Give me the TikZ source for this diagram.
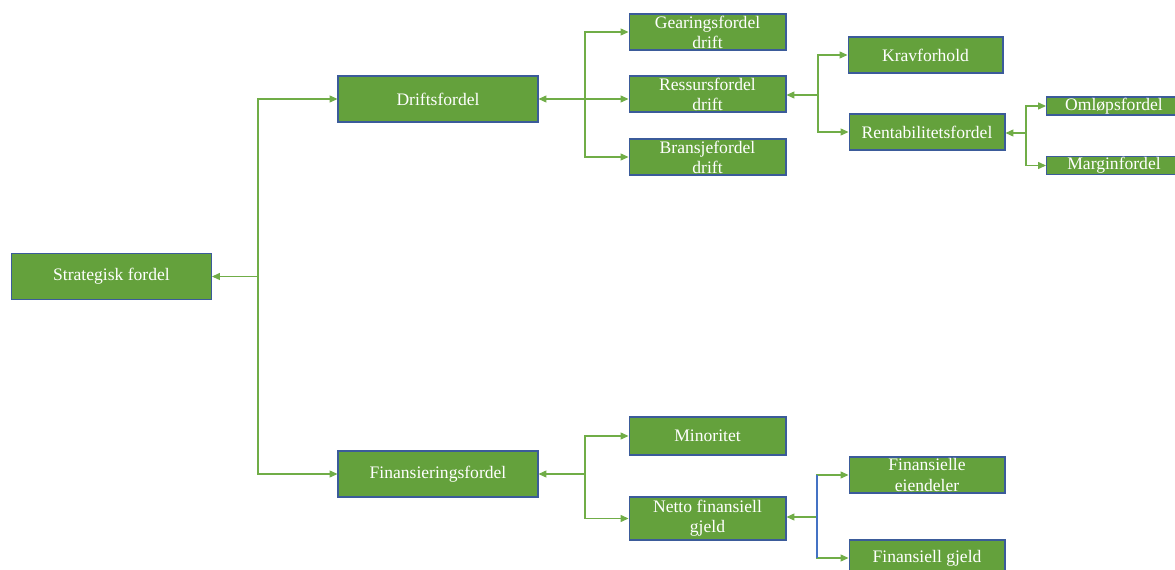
\documentclass[tikz,border=0pt]{standalone}
\usepackage{fontspec}
\setmainfont{Liberation Serif}
\usetikzlibrary{arrows.meta,positioning}
\definecolor{boxgreen}{HTML}{64A13C}
\definecolor{boxedge}{HTML}{3B5B9A}
\definecolor{linegreen}{HTML}{70AD47}
\definecolor{lineblue}{HTML}{4472C4}

\begin{document}
\begin{tikzpicture}[x=0.02cm,y=-0.02cm,
  box/.style={draw=boxedge,fill=boxgreen,text=white,line width=0.6pt,
              inner sep=0pt,align=center,font=\fontsize{10}{11.4}\selectfont},
  big/.style={box,minimum width=4cm,minimum height=0.92cm},
  mid/.style={box,minimum width=3.14cm,minimum height=0.72cm},
  low/.style={box,minimum width=2.7cm,minimum height=0.36cm},
  link/.style={draw=linegreen,line width=0.6pt},
  tip/.style={link,-{Triangle[length=4.5pt,width=4pt]}},
  both/.style={link,{Triangle[length=4.5pt,width=4pt]}-{Triangle[length=4.5pt,width=4pt]}}]
  \clip (0,0) rectangle (1175,570);
  % root and the two main branches
  \node[big] (strat) at (111.5,276.5) {Strategisk fordel};
  \node[big] (drift) at (438,99) {Driftsfordel};
  \node[big] (fin) at (438,474) {Finansieringsfordel};
  % drift side
  \node[mid] (gear) at (707.5,32) {Gearingsfordel\\drift};
  \node[mid] (ress) at (707.5,94) {Ressursfordel\\drift};
  \node[mid] (bransje) at (707.5,157) {Bransjefordel\\drift};
  \node[mid,minimum width=3.1cm] (krav) at (925.5,55) {Kravforhold};
  \node[mid,minimum width=3.12cm] (rent) at (927,132) {Rentabilitetsfordel};
  \node[low] (oml) at (1114,106) {Omløpsfordel};
  \node[low] (margin) at (1114,165.5) {Marginfordel};
  % finansiering side
  \node[mid,minimum height=0.76cm] (mino) at (707.5,436) {Minoritet};
  \node[mid,minimum height=0.86cm] (netto) at (707.5,518.5) {Netto finansiell\\gjeld};
  \node[mid,minimum width=3.12cm] (feiend) at (927,475) {Finansielle\\eiendeler};
  \node[mid,minimum width=3.12cm] (fgjeld) at (927,558) {Finansiell gjeld};

  % branch points
  \coordinate (sb) at (258,276.5);
  \coordinate (db) at (585,99);
  \coordinate (rb) at (818,95);
  \coordinate (kb) at (1026,133);
  \coordinate (fb) at (585,474);
  \coordinate (nb) at (817,517);

  \draw[tip] (sb) -- (sb -| strat.east);
  \draw[tip] (sb) |- (drift.west);
  \draw[tip] (sb) |- (fin.west);

  \draw[both] (drift.east) -- (drift.east -| ress.west);
  \draw[tip] (db) |- (gear.west);
  \draw[tip] (db) |- (bransje.west);

  \draw[tip] (rb) -- (rb -| ress.east);
  \draw[tip] (rb) |- (krav.west);
  \draw[tip] (rb) |- (rent.west);

  \draw[tip] (kb) -- (kb -| rent.east);
  \draw[tip] (kb) |- (oml.west);
  \draw[tip] (kb) |- (margin.west);

  \draw[tip] (fb) -- (fin.east);
  \draw[tip] (fb) |- (mino.west);
  \draw[tip] (fb) |- (netto.west);

  \draw[tip] (nb) -- (nb -| netto.east);
  \draw[tip] (nb) |- (feiend.west);
  \draw[tip] (nb) |- (fgjeld.west);
  \draw[lineblue,line width=0.6pt] (nb |- feiend.west) -- (nb |- fgjeld.west);
\end{tikzpicture}
\end{document}
